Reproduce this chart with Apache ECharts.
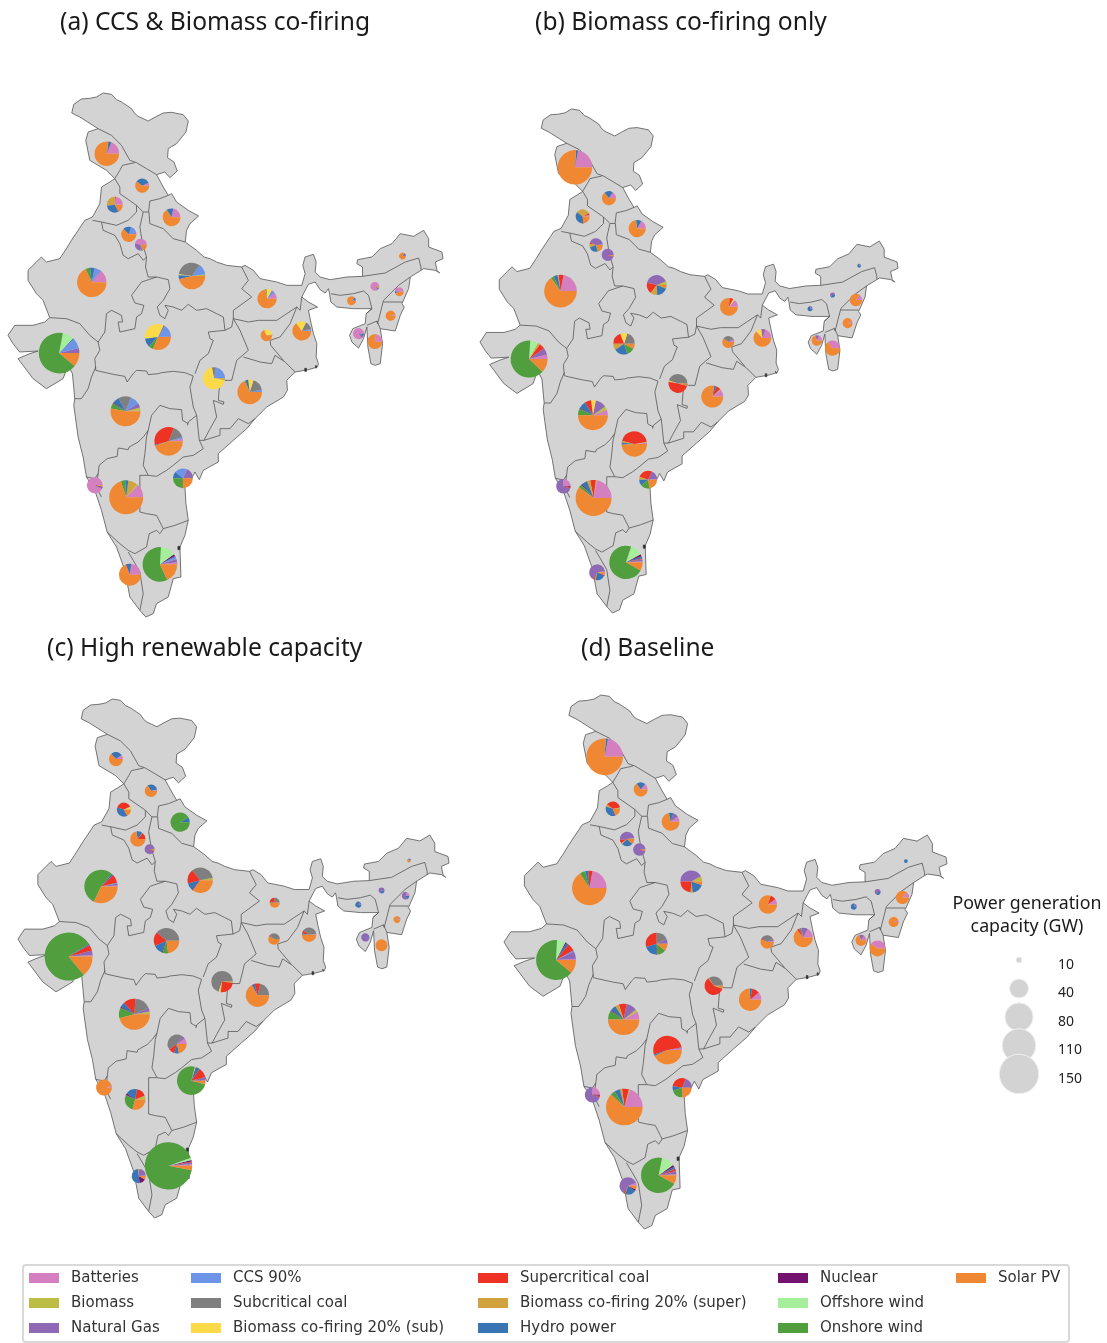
<!DOCTYPE html>
<html><head><meta charset="utf-8">
<style>html,body{margin:0;padding:0;background:#fff}#c{width:1107px;height:1343px}</style>
<script src="https://cdn.jsdelivr.net/npm/echarts@6/dist/echarts.min.js"></script>
</head><body><div id="c"></div>
<script>
const technologies=['Batteries','Biomass','Natural Gas','CCS 90%','Subcritical coal','Biomass co-firing 20% (sub)','Supercritical coal','Biomass co-firing 20% (super)','Hydro power','Nuclear','Offshore wind','Onshore wind','Solar PV'];
const techColors=['#d67fc0','#bcbd45','#8f69b5','#6d94e6','#7f7f7f','#fbd949','#ee3224','#d0a33e','#3975b4','#74126f','#a6ee9b','#509e3d','#f08733'];
const stateNames=['JK','HP','PB','UK','HR','DL','RJ','UP','BR','WB','JH','AR','AS','NL','ML','MN','TR','MZ','MP','GJ','CG','OD','MH','TS','AP','GA','KA','TN','KL'];
// state pie anchors in the map's own coordinate space
const stateAnchors=[[321,220],[427,316],[345,373],[515,411],[387,462],[423,493],[276,606],[576,587],[801,655],[905,752],[799,765],[1207,527],[1124,618],[1197,634],[1054,661],[1171,706],[1075,760],[1124,784],[474,770],[178,818],[642,894],[749,935],[377,993],[506,1083],[549,1194],[285,1215],[379,1251],[480,1452],[390,1483]];
const panelTitles=['(a) CCS & Biomass co-firing','(b) Biomass co-firing only','(c) High renewable capacity','(d) Baseline'];
// total capacity per state (GW)
const totalA=[62,25,30,36,28,20,86,72,41,40,19,11,14,14,14,16,18,27,69,158,51,62,89,82,43,30,113,117,51];
const totalB=[116,25,25,34,23,20,104,43,36,36,20,8,9,21,9,16,17,28,49,132,40,51,89,66,36,26,126,109,30];
const totalC=[25,21,25,41,28,16,109,66,16,26,19,8,10,12,10,11,13,20,66,218,49,57,95,40,82,30,46,213,25];
const totalD=[130,25,26,36,26,21,116,51,38,41,23,8,10,23,10,16,18,30,51,153,38,53,97,82,41,28,130,122,34];
// percent share per technology, one row per state, in the order of technologies
const mixA=[[19,0,0,0,0,0,0,0,4,0,0,0,77],[7,0,0,0,0,0,0,0,33,0,0,0,60],[22,1,0,0,0,0,2,27,30,1,0,0,17],[22,0,0,0,0,0,0,0,12,0,0,1,65],[2,0,3,15,0,0,0,0,18,0,0,0,62],[47,0,28,2,0,0,0,0,3,0,0,0,20],[14,0,1,7,0,0,0,0,5,0,0,5,68],[0,2,0,13,33,1,0,0,5,0,0,0,46],[10,0,0,7,0,9,0,0,0,0,0,2,72],[1,0,0,3,14,17,0,0,0,0,0,0,65],[0,0,0,0,2,30,0,0,1,0,0,0,67],[0,0,7,0,0,0,0,0,8,0,0,0,85],[85,0,3,0,0,0,0,0,5,0,0,0,7],[48,0,3,0,0,0,0,0,5,0,0,0,44],[0,0,5,0,0,0,0,0,8,0,0,0,87],[5,0,0,0,0,0,0,0,0,0,0,0,95],[85,0,10,0,0,0,0,0,5,0,0,0,0],[22,0,0,0,0,0,0,0,0,0,0,0,78],[0,0,1,15,2,34,0,0,11,0,0,6,31],[0,0,4,8,0,0,0,0,1,0,9,67,11],[0,0,0,22,6,70,0,2,0,0,0,0,0],[0,0,0,3,17,7,0,0,4,0,0,1,68],[1,3,5,10,14,0,0,0,7,1,0,6,53],[3,0,0,2,14,0,35,0,1,0,0,0,45],[0,0,18,21,0,0,0,0,11,0,0,25,25],[92,0,3,0,0,0,0,0,0,2,0,0,3],[13,1,0,0,0,0,0,9,3,0,0,4,70],[2,0,3,2,0,0,0,0,1,2,14,58,18],[23,0,0,0,0,0,0,0,7,1,0,0,69]];
const mixB=[[22,0,0,0,0,0,0,0,2,0,0,0,76],[16,0,0,0,0,0,0,0,20,0,0,0,64],[3,1,0,0,0,0,4,32,35,2,0,0,23],[17,0,0,0,0,0,0,0,10,0,0,1,72],[1,0,43,0,0,0,3,9,22,0,0,2,20],[0,0,95,0,0,0,2,0,0,0,0,0,3],[22,0,0,0,0,0,5,1,4,0,0,3,65],[0,6,40,0,0,0,18,11,18,0,0,1,5],[14,0,0,0,0,3,7,0,0,0,0,0,76],[19,0,8,0,0,10,0,0,0,0,0,0,63],[6,0,3,0,31,0,0,0,0,0,0,0,60],[0,0,20,0,0,0,0,0,80,0,0,0,0],[0,0,60,0,0,0,0,0,40,0,0,0,0],[12,0,2,0,0,0,0,0,0,0,0,0,86],[5,0,15,0,0,0,0,0,80,0,0,0,0],[8,0,0,0,0,0,0,0,0,0,0,0,92],[18,0,12,0,0,0,0,0,0,0,0,0,70],[35,0,0,0,0,0,0,0,0,0,0,0,65],[0,0,0,0,20,11,19,10,20,0,0,12,8],[4,0,6,0,0,0,5,2,0,0,7,64,12],[0,0,0,0,45,2,49,2,0,0,0,0,2],[11,1,0,0,0,0,7,0,3,0,0,0,78],[6,4,12,0,0,5,7,0,8,1,0,7,50],[2,1,0,0,0,0,43,2,3,0,0,0,49],[1,0,17,0,0,0,27,5,11,0,0,17,22],[25,0,70,0,0,0,3,0,0,2,0,0,0],[22,1,0,0,0,0,5,3,5,1,0,3,60],[1,0,2,0,0,0,1,0,2,2,12,72,8],[2,0,65,0,0,0,3,2,20,2,0,0,6]];
const mixC=[[10,0,0,0,0,0,0,0,27,0,0,0,63],[3,0,0,0,0,0,0,0,31,0,0,0,66],[0,1,0,0,0,6,38,0,37,1,0,0,17],[0,0,0,0,0,0,0,0,8,0,0,92,0],[0,0,0,0,0,0,14,1,13,0,0,0,72],[0,0,90,0,0,0,3,0,2,0,0,0,5],[1,0,2,1,0,0,8,0,2,0,0,54,32],[0,3,0,0,33,0,18,0,10,1,0,0,35],[1,0,0,0,25,0,22,0,2,0,0,0,50],[2,0,0,0,38,0,7,0,3,0,0,0,50],[0,0,0,0,38,0,2,0,2,0,0,0,58],[0,0,0,0,0,0,0,0,30,0,0,0,70],[0,0,70,0,0,0,0,0,30,0,0,0,0],[20,0,60,0,0,0,0,0,20,0,0,0,0],[0,0,15,0,0,0,0,0,85,0,0,0,0],[5,0,5,0,0,0,0,0,0,0,0,0,90],[0,0,95,0,0,0,0,0,5,0,0,0,0],[0,0,0,0,0,0,0,0,0,0,0,0,100],[0,0,0,0,39,0,18,0,12,1,0,7,23],[1,0,3,0,0,0,4,0,1,0,0,77,14],[0,0,0,0,70,3,25,2,0,0,0,0,0],[0,0,0,0,21,0,8,0,4,0,0,0,67],[0,3,4,0,17,0,13,0,5,1,0,11,46],[10,0,7,0,43,0,10,0,8,0,0,0,22],[0,0,4,0,0,0,11,0,4,1,1,75,4],[3,0,0,0,0,0,0,0,0,0,0,0,97],[0,6,0,0,0,0,16,0,18,3,0,28,29],[1,0,1.5,0,0,0,0.5,0,0,1,1.5,92,3],[2,0,22,0,0,0,0,3,50,15,0,0,8]];
const mixD=[[22,0,0,0,0,0,0,0,2,0,0,0,76],[14,0,0,0,0,0,0,0,21,0,0,0,65],[0,3,0,0,0,0,37,5,35,1,0,0,19],[10,0,10,0,0,0,0,0,8,0,0,1,71],[0,2,50,0,0,0,8,3,25,0,0,0,12],[0,0,95,0,0,0,2,0,0,0,0,0,3],[22,0,0,0,0,0,4,0,3,0,0,5,66],[0,8,42,0,0,0,24,3,18,0,0,0,5],[10,0,0,0,0,0,10,0,0,0,0,0,80],[17,0,11,0,4,0,4,0,0,0,0,0,64],[3,0,5,0,33,0,3,0,0,0,0,0,56],[0,0,0,0,0,0,0,0,100,0,0,0,0],[0,0,70,0,0,0,0,0,30,0,0,0,0],[14,0,0,0,0,0,0,0,0,0,0,0,86],[0,0,20,0,0,0,0,0,80,0,0,0,0],[5,0,0,0,0,0,0,0,0,0,0,0,95],[15,0,15,0,0,0,0,0,0,0,0,0,70],[40,0,0,0,0,0,0,0,0,0,0,0,60],[0,0,7,0,18,0,30,0,20,1,0,13,11],[1,0,6,1,0,0,6,0,2,1,7,64,11],[1,0,0,0,33,1,60,3,0,0,0,0,2],[11,0,0,0,0,0,11,0,4,0,0,0,74],[8,3,11,0,0,0,8,4,6,1,0,9,50],[2,0,1,0,0,0,52,0,2,0,0,0,43],[0,0,19,0,0,0,28,0,8,0,0,20,25],[25,0,70,0,0,0,3,0,0,2,0,0,0],[20,1,0,0,0,0,6,2,5,0,0,4,62],[1,0,3,0,0,0,2,0,2,2,12,70,8],[6,0,60,0,0,0,3,1,20,3,0,0,7]];
const bubbleCapacities=[10,40,80,110,150];

// basemap tracing (map space)
const indiaOutline=[[216,98],[222,72],[245,56],[270,54],[290,50],[310,38],[335,42],[350,58],[365,65],[395,85],[405,100],[415,108],[445,122],[470,108],[490,98],[515,96],[550,103],[565,122],[558,155],[530,190],[505,205],[503,232],[522,245],[532,272],[510,292],[495,275],[470,283],[490,320],[505,345],[515,340],[530,365],[565,390],[596,407],[570,430],[560,450],[556,485],[590,510],[612,530],[630,535],[650,545],[680,555],[725,560],[735,555],[760,570],[780,595],[830,605],[860,615],[905,615],[915,580],[908,555],[915,530],[940,522],[948,545],[945,575],[960,590],[990,598],[1040,590],[1087,588],[1087,560],[1070,550],[1072,538],[1115,530],[1140,505],[1175,490],[1200,460],[1240,468],[1270,450],[1285,475],[1285,500],[1325,515],[1328,535],[1305,545],[1310,570],[1318,578],[1305,570],[1270,565],[1262,570],[1230,590],[1225,625],[1205,670],[1212,680],[1200,705],[1185,752],[1140,745],[1147,790],[1140,850],[1125,855],[1112,850],[1103,800],[1100,740],[1090,775],[1075,803],[1055,785],[1048,765],[1058,745],[1095,730],[1098,700],[1115,685],[1060,685],[1010,680],[992,665],[988,640],[985,625],[975,638],[960,628],[945,605],[925,612],[918,625],[905,650],[925,665],[952,680],[925,690],[932,725],[940,760],[950,790],[948,830],[955,850],[952,860],[925,868],[885,875],[860,900],[862,930],[850,950],[800,980],[765,1015],[740,1045],[700,1080],[655,1120],[655,1145],[610,1170],[598,1198],[585,1175],[575,1195],[555,1220],[558,1270],[565,1320],[555,1365],[540,1400],[543,1490],[520,1495],[505,1550],[470,1570],[460,1600],[438,1610],[420,1590],[390,1550],[375,1470],[350,1400],[322,1355],[305,1290],[285,1230],[260,1190],[250,1130],[235,1070],[222,975],[225,955],[218,880],[205,855],[190,895],[140,925],[100,895],[55,835],[85,822],[115,812],[60,815],[40,790],[25,765],[45,735],[100,735],[135,725],[150,712],[130,660],[110,640],[85,600],[85,570],[110,545],[125,530],[140,545],[180,535],[200,505],[215,480],[245,435],[255,420],[278,410],[300,370],[305,320],[330,305],[345,295],[320,270],[270,240],[258,180],[265,155],[295,145],[240,110]];
const stateBorders=[
[[295,145],[335,165],[365,195],[390,240],[410,247],[440,265],[470,283]],
[[345,295],[360,270],[368,255],[405,247]],
[[345,295],[360,320],[360,340],[410,375],[430,395],[446,395],[450,362],[480,355],[505,345]],
[[278,420],[305,425],[350,435],[385,420],[410,395],[410,375]],
[[305,425],[310,450],[345,465],[360,490],[370,525],[385,535],[415,520],[430,540],[440,530]],
[[447,395],[450,430],[490,445],[520,475],[556,485]],
[[430,395],[420,440],[428,490],[440,530],[437,560],[445,590]],
[[470,590],[425,605],[395,645],[405,668],[432,675],[425,700],[410,710],[405,745],[360,755],[355,725],[368,725],[365,705],[335,690],[320,700],[315,755],[295,785],[300,810],[285,835],[288,870],[300,873],[345,883],[375,888],[382,905],[400,880],[410,870],[440,872],[445,883],[475,880],[485,877],[520,873],[555,877],[580,887],[570,920],[580,980],[590,1005],[565,1025],[563,1035]],
[[445,590],[470,590],[505,598],[510,625],[490,660],[472,680],[480,705],[495,715],[505,690],[495,675],[520,680],[545,690],[565,672],[590,690],[620,685],[650,700],[670,710],[675,750],[695,740],[700,715]],
[[150,712],[200,715],[240,730],[270,765],[295,785]],
[[288,860],[275,890],[265,925],[245,955],[225,955]],
[[725,560],[745,600],[725,625],[755,650],[700,690],[700,715],[745,725],[775,720],[830,720],[860,700],[890,680],[900,690],[905,650]],
[[700,715],[720,750],[745,810],[710,840],[695,900],[675,900],[660,895],[655,960],[672,965],[670,972],[640,960],[650,1010],[625,1055],[612,1080]],
[[675,750],[625,755],[630,775],[640,780],[625,820],[600,840],[585,880]],
[[730,830],[780,845],[815,850],[825,825],[855,845],[885,875]],
[[890,680],[870,730],[840,770],[810,780],[812,795],[850,840]],
[[565,1030],[548,1020],[545,988],[510,985],[480,975],[455,1005],[445,1050],[440,1070],[435,1120],[430,1155],[445,1185]],
[[445,1050],[432,1068],[415,1085],[388,1100],[385,1108],[355,1103],[352,1128],[322,1135],[298,1155],[295,1180],[285,1195],[260,1190]],
[[295,1180],[290,1220],[305,1250]],
[[590,1005],[598,1080],[610,1105],[580,1125],[550,1130],[520,1155],[500,1170],[470,1188],[445,1185],[420,1185],[420,1295],[440,1300],[470,1305],[485,1335],[490,1345],[480,1360],[470,1350],[448,1360],[440,1400],[405,1420],[385,1410],[360,1390],[322,1355]],
[[598,1080],[612,1080],[660,1065],[660,1045],[690,1045],[715,1015],[745,1030],[765,1015]],
[[565,1320],[525,1335],[490,1345]],
[[385,1415],[400,1440],[420,1475],[430,1540],[420,1590]],
[[1087,588],[1155,578],[1215,545],[1255,533],[1262,560],[1262,570]],
[[1230,590],[1195,615],[1150,660],[1132,730]],
[[1150,665],[1205,665]],
[[992,640],[1020,645],[1060,640],[1090,632],[1105,645],[1115,685]],
[[1115,685],[1098,700]],
[[1100,735],[1130,722],[1140,745]],
[[1132,730],[1130,722]]
];
// small dark coastal specks seen on the basemap
const coastalSpecks=[[[534,1398],[540,1398],[540,1408],[534,1408]],[[914,864],[919,864],[919,873],[914,873]],[[946,856],[949,856],[949,863],[946,863]]];

function ringFeature(name,ring){return {type:'Feature',properties:{name},geometry:{type:'Polygon',coordinates:[ring.concat([ring[0]])]}};}
echarts.registerMap('india',{type:'FeatureCollection',features:[
  ringFeature('India',indiaOutline),
  {type:'Feature',properties:{name:'borders'},geometry:{type:'MultiLineString',coordinates:stateBorders}},
  {type:'Feature',properties:{name:'specks'},geometry:{type:'MultiPolygon',coordinates:coastalSpecks.map(r=>[r.concat([r[0]])])}}
]});
const identity={project:p=>p,unproject:p=>p};
const panelBoxes=[
  {left:8,top:93,width:435,height:524},
  {left:480,top:109,width:418,height:504},
  {left:18,top:699,width:431,height:519},
  {left:504,top:695,width:443,height:534}
];
const titlePos=[[60,22],[535,22],[47,648],[581,648]];
const radiusOf=cap=>1.65*Math.sqrt(Math.max(cap-6.7,0.5));
const totals=[totalA,totalB,totalC,totalD], mixes=[mixA,mixB,mixC,mixD];

const series=[];
totals.forEach((tot,p)=>{
  stateNames.forEach((st,i)=>{
    const data=[];
    mixes[p][i].forEach((share,t)=>{ if(share>0) data.push({name:technologies[t],value:tot[i]*share/100,itemStyle:{color:techColors[t]}}); });
    series.push({type:'pie',name:st+'-'+p,coordinateSystem:'geo',geoIndex:p,center:stateAnchors[i],radius:[0,radiusOf(tot[i])],
      startAngle:0,clockwise:false,label:{show:false},labelLine:{show:false},silent:true,animation:false,emphasis:{disabled:true},avoidLabelOverlap:false,data,minAngle:0});
  });
});
series.push({type:'scatter',xAxisIndex:0,yAxisIndex:0,silent:true,animation:false,
  data:bubbleCapacities.map(c=>[0.5,String(c)]),
  symbolSize:v=>2*radiusOf(+v[1]),
  itemStyle:{color:'#d3d3d3',borderColor:'#f0f0f0',borderWidth:1,opacity:1}});

const legendFont={fontFamily:'DejaVu Sans',fontSize:15,color:'#333',padding:[0,0,0,7]};
const legendCols=[[technologies[0],technologies[1],technologies[2]],[technologies[3],technologies[4],technologies[5]],[technologies[6],technologies[7],technologies[8]],[technologies[9],technologies[10],technologies[11]],[technologies[12]]];
const legendX=[29,191,478,778,956];

const option={
  backgroundColor:'#fff',animation:false,
  title:panelTitles.map((t,i)=>({text:t,left:titlePos[i][0],top:titlePos[i][1]-12,padding:0,textStyle:{fontFamily:'Noto Sans',fontSize:24.6,fontWeight:'normal',color:'#1a1a1a'}}))
   .concat([{text:'Power generation\ncapacity (GW)',left:1027,top:892,padding:0,textAlign:'center',textStyle:{fontFamily:'Noto Sans',fontSize:17.8,fontWeight:'normal',color:'#1a1a1a',lineHeight:23}}]),
  geo:panelBoxes.map(b=>({map:'india',projection:identity,roam:false,silent:true,left:b.left,top:b.top,width:b.width,height:b.height,
    label:{show:false},itemStyle:{areaColor:'#d3d3d3',borderColor:'#555555',borderWidth:0.8},emphasis:{disabled:true},
    regions:[{name:'specks',itemStyle:{areaColor:'#222222',borderColor:'#444444'}}]})),
  grid:{left:1014,width:10,top:945.75,height:142.5},
  xAxis:{type:'value',min:0,max:1,show:false},
  yAxis:{type:'category',inverse:true,position:'right',data:bubbleCapacities.map(String),axisLine:{show:false},axisTick:{show:false},splitLine:{show:false},
    axisLabel:{margin:34,align:'left',verticalAlign:'top',lineHeight:10,fontFamily:'Noto Sans',fontSize:14,color:'#222'}},
  legend:legendCols.map((names,i)=>({data:names,left:legendX[i],top:1270.5,orient:'vertical',padding:0,itemGap:10,itemWidth:30,itemHeight:10,icon:'rect',selectedMode:false,textStyle:legendFont})),
  graphic:[{type:'rect',silent:true,z:-1,shape:{x:23,y:1265,width:1046,height:77,r:3},style:{fill:'#fff',stroke:'#d9d9d9',lineWidth:2}}],
  series
};
const chart=echarts.init(document.getElementById('c'),null,{renderer:'canvas',width:1107,height:1343});
chart.setOption(option);
</script></body></html>
